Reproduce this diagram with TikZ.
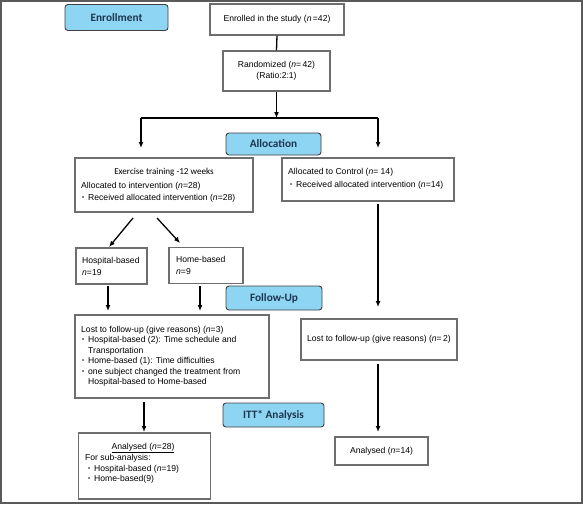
\documentclass[tikz,border=0pt]{standalone}
\usepackage{fontspec}
\setmainfont{Liberation Sans}
\newfontfamily\carl{Carlito}
\usetikzlibrary{arrows.meta}
\definecolor{lblue}{HTML}{8ED5F3}
\definecolor{navy}{HTML}{1C3550}
\definecolor{boxgray}{HTML}{6E6E6E}
\definecolor{framegray}{HTML}{5A5A5A}
\newcommand{\bul}{\makebox[6pt][l]{\raisebox{0.6pt}{\fontsize{6}{6}\selectfont\textbullet}}}
\tikzset{
 box/.style={draw=boxgray, line width=1.1pt, inner sep=0pt, fill=white},
 stage/.style={draw=black!75, fill=lblue, rounded corners=3pt, line width=0.9pt,
   font=\carl\bfseries\fontsize{11.3}{13}\selectfont, text=navy, inner sep=0pt},
 txt/.style={anchor=base west, inner sep=0pt, font=\fontsize{8.6}{10.5}\selectfont},
 ctxt/.style={inner sep=0pt, font=\fontsize{8.6}{10.5}\selectfont, align=center},
 arr/.style={-{Latex[length=6pt,width=5pt]}, line width=1.3pt},
 ln/.style={line width=1.3pt}
}
\begin{document}
\begin{tikzpicture}[x=1pt,y=-1pt]
\useasboundingbox (0,0) rectangle (583,504);
\draw[framegray, line width=2pt] (1,1) rectangle (582,503);

% stage labels
\node[stage, minimum width=103pt, minimum height=26pt] (enroll) at (116.5,17.5) {Enrollment};
\node[stage, minimum width=95pt, minimum height=22pt] (alloc) at (273.5,144) {Allocation};
\node[stage, minimum width=96pt, minimum height=24pt] (follow) at (274,298) {Follow-Up};
\node[stage, minimum width=101pt, minimum height=24pt] (itt) at (273.5,415) {ITT* Analysis};

% boxes
\node[box, ctxt, minimum width=134pt, minimum height=31pt] (enr) at (277,19.5) {Enrolled in the study (\textit{n}\,=42)};
\node[box, ctxt, minimum width=107pt, minimum height=40pt] (rand) at (276.5,71) {Randomized (\textit{n}=\,42)\\(Ratio:2:1)};
\node[box, minimum width=178pt, minimum height=54pt] (exer) at (164,185) {};
\node[box, minimum width=172pt, minimum height=43pt] (ctrl) at (368,179.5) {};
\node[box, minimum width=71pt, minimum height=36pt] (hosp) at (111.5,266) {};
\node[box, minimum width=74pt, minimum height=36pt] (home) at (206,265.5) {};
\node[box, minimum width=194pt, minimum height=83pt] (lostL) at (172,356.5) {};
\node[box, ctxt, minimum width=156pt, minimum height=41pt] (lostR) at (379,339.5) {Lost to follow-up (give reasons) (\textit{n}=\,2)};
\node[box, minimum width=132pt, minimum height=66pt] (anaL) at (144.5,466) {};
\node[box, ctxt, minimum width=93pt, minimum height=28pt] (anaR) at (381.5,451) {Analysed (\textit{n}=14)};

% texts
\node[anchor=base, inner sep=0pt, font=\carl\fontsize{9.1}{11}\selectfont] (ex1) at (164,174.5) {Exercise training -12 weeks};
\node[txt] (ex2) at (81,188) {Allocated to intervention (\textit{n}=28)};
\node[txt] (ex3) at (82,200.5) {\bul Received allocated intervention (\textit{n}=28)};
\node[txt] (ct1) at (288,174) {Allocated to Control (\textit{n}= 14)};
\node[txt] (ct2) at (290,187) {\bul Received allocated intervention (\textit{n}=14)};
\node[txt] (ho1) at (82,263) {Hospital-based};
\node[txt] (ho2) at (82,275) {\textit{n}=19};
\node[txt] (hm1) at (176,262) {Home-based};
\node[txt] (hm2) at (176,274) {\textit{n}=9};
\node[txt] (lo1) at (81,332) {Lost to follow-up (give reasons) (\textit{n}=3)};
\node[txt] (lo2) at (82,342.5) {\bul Hospital-based (2): Time schedule and};
\node[txt] (lo3) at (88,353) {Transportation};
\node[txt] (lo4) at (82,363.5) {\bul Home-based (1): Time difficulties};
\node[txt] (lo5) at (82,374) {\bul one subject changed the treatment from};
\node[txt] (lo6) at (88,384.5) {Hospital-based to Home-based};
\node[anchor=base, inner sep=0pt, font=\fontsize{8.6}{10.5}\selectfont] (an1) at (143,449) {\underline{Analysed (\textit{n}=28)}};
\node[txt] (an2) at (85,460.5) {For sub-analysis:};
\node[txt] (an3) at (88,471) {\bul Hospital-based (\textit{n}=19)};
\node[txt] (an4) at (88,481.5) {\bul Home-based(9)};

% coordinates for connectors
\coordinate (split) at (276.5,118);
\coordinate (jl) at (141,118);
\coordinate (jr) at (378,118);
\coordinate (al) at (141,148);
\coordinate (ar) at (378,148);
\coordinate (d1s) at (133,218);
\coordinate (d1e) at (109,247);
\coordinate (d2s) at (157,218);
\coordinate (d2e) at (180,243);
\coordinate (r1s) at (378,204);
\coordinate (r1e) at (378,307);
\coordinate (h1s) at (108,286);
\coordinate (h1e) at (108,311);
\coordinate (h2s) at (200,286);
\coordinate (h2e) at (200,311);
\coordinate (l1s) at (144,402);
\coordinate (l1e) at (144,432);
\coordinate (r2s) at (378,364);
\coordinate (r2e) at (378,432);

% connectors
\draw[ln] (enr.south) -- (rand.north);
\draw[arr] (rand.south) -- (split);
\draw[ln] (jl) -- (jr);
\draw[arr] (jl) -- (al);
\draw[arr] (jr) -- (ar);
\draw[arr] (d1s) -- (d1e);
\draw[arr] (d2s) -- (d2e);
\draw[arr] (r1s) -- (r1e);
\draw[arr] (h1s) -- (h1e);
\draw[arr] (h2s) -- (h2e);
\draw[arr] (l1s) -- (l1e);
\draw[arr] (r2s) -- (r2e);
\end{tikzpicture}
\end{document}
